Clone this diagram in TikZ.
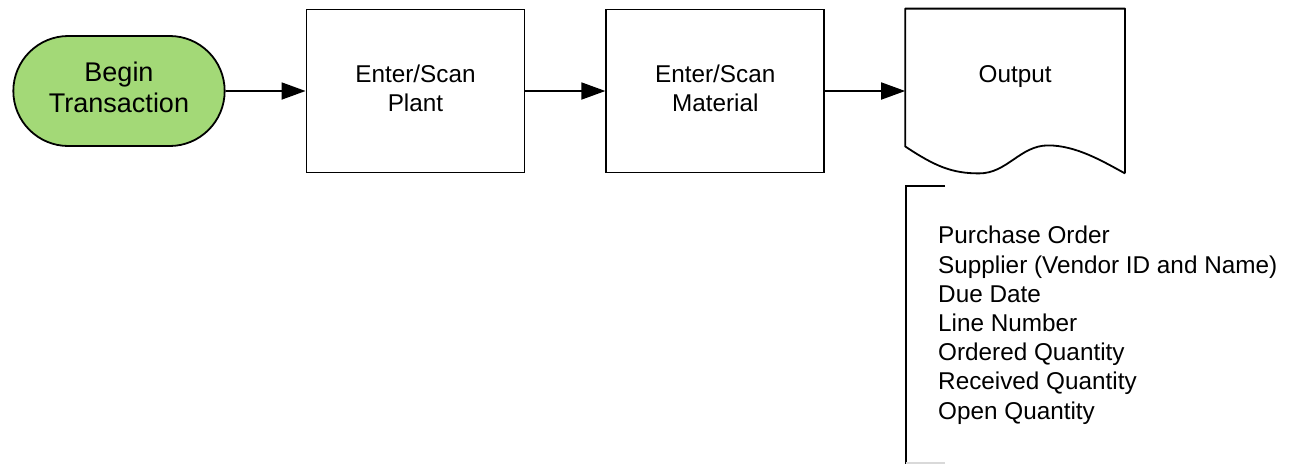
\documentclass[tikz,border=0pt]{standalone}
\usepackage{fontspec}
\setmainfont{Liberation Sans}
\usetikzlibrary{positioning,shapes.misc,arrows.meta,calc}
\definecolor{startgreen}{RGB}{163,217,119}
\newcommand{\bigtxt}{\fontsize{24.3}{29.2}\selectfont}
\newcommand{\twoline}[3]{\raisebox{#1}{\begin{tabular}{@{}c@{}}#2\\#3\end{tabular}}}

\begin{document}
\begin{tikzpicture}[x=1pt,y=1pt]
    \tikzset{node distance=80pt,
      stepbox/.style={draw,line width=1.8pt,minimum width=218pt,minimum height=163pt,align=center,font=\bigtxt},
      terminal/.style={rounded rectangle,draw,line width=1.8pt,fill=startgreen,minimum width=218pt,minimum height=110pt,align=center,font=\fontsize{27}{31}\selectfont},
      flow/.style={line width=1.8pt,-{Triangle[length=24pt,width=17pt]}}}
    \useasboundingbox (0,0) rectangle (1295,-464);
    \node[terminal](begin) at (119,-91) {\twoline{6pt}{Begin}{Transaction}};
    \node[stepbox,right=of begin](plant) {\twoline{8pt}{Enter/Scan}{Plant}};
    \node[stepbox,right=of plant](mat) {\twoline{8pt}{Enter/Scan}{Material}};
    \node[stepbox,draw=none,right=of mat](out) {\raisebox{34pt}{Output}};
    \draw[line width=1.8pt,line join=round] (out.south east) -- (out.north east) -- (out.north west) -- ($(out.south west)+(0,27)$)
        .. controls +(30,-20) and +(-27,0) .. ($(out.south west)+(74,0)$)
        .. controls +(28,0) and +(-28,0) .. ($(out.south west)+(143,28)$)
        .. controls +(28,0) and +(-22,12) .. (out.south east);
    \draw[flow] (begin) -- (plant);
    \draw[flow] (plant) -- (mat);
    \draw[flow] (mat) -- (out);
    % fields shown on the output
    \node[anchor=north west,align=left,inner sep=0pt,font=\bigtxt](notes) at (938,-226) {Purchase Order\\Supplier (Vendor ID and Name)\\Due Date\\Line Number\\Ordered Quantity\\Received Quantity\\Open Quantity};
    \coordinate (brtop) at (906,-186);
    \coordinate (brbot) at (906,-464);
    \draw[line width=1.8pt] ($(brtop)+(39,0)$) -- (brtop) -- (brbot);
    \draw[gray!30,line width=1.2pt] ($(brbot)+(0,1)$) -- +(39,0);
\end{tikzpicture}
\end{document}
